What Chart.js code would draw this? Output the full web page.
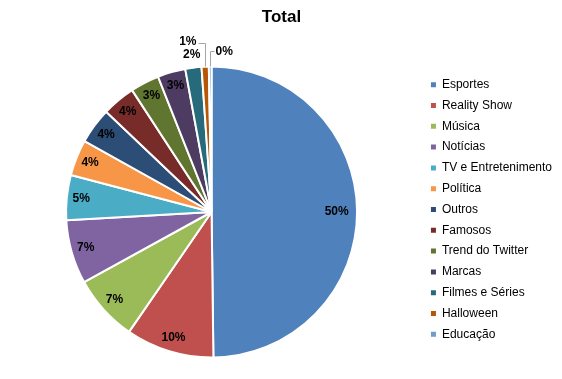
<!DOCTYPE html>
<html><head><meta charset="utf-8">
<script src="https://cdn.jsdelivr.net/npm/chart.js@4.4.0/dist/chart.umd.min.js"></script>
<style>html,body{margin:0;padding:0;background:#fff;overflow:hidden}</style>
</head><body>
<canvas id="c" width="562" height="379"></canvas>
<script>
const chartTitle = 'Total';
const categories = ['Esportes','Reality Show','Música','Notícias','TV e Entretenimento','Política','Outros','Famosos','Trend do Twitter','Marcas','Filmes e Séries','Halloween','Educação'];
const values = [49.8, 9.8, 7.4, 7.1, 5.0, 4.0, 4.0, 3.7, 3.2, 3.1, 1.8, 0.8, 0.3];
const colors = ['#4F81BD','#C0504D','#9BBB59','#8064A2','#4BACC6','#F79646','#2C4D75','#772C2A','#5F7530','#4D3B62','#276A7C','#B65708','#729ACA'];

const FONT = '"Liberation Sans", Arial, sans-serif';

const labelPlugin = {
  id: 'pieLabels',
  afterLayout(chart) {
    // nudge the legend block up slightly, as in the reference
    if (chart.legend) { chart.legend.top -= 2.5; chart.legend.bottom -= 2.5; }
  },
  afterDatasetsDraw(chart) {
    const ctx = chart.ctx;
    const meta = chart.getDatasetMeta(0);
    const data = chart.data.datasets[0].data;
    const total = data.reduce((a, b) => a + b, 0);
    ctx.save();
    ctx.font = 'bold 12px ' + FONT;
    ctx.fillStyle = '#000';
    ctx.textBaseline = 'middle';
    let tiny = 0;
    meta.data.forEach((arc, i) => {
      const p = arc.getProps(['x', 'y', 'startAngle', 'endAngle', 'outerRadius'], true);
      const share = data[i] / total * 100;
      const text = Math.round(share) + '%';
      const mid = (p.startAngle + p.endAngle) / 2;
      if (share >= 2.5) {
        const r = p.outerRadius * (share > 40 ? 0.86 : 0.9);
        ctx.textAlign = 'center';
        ctx.fillText(text, p.x + Math.cos(mid) * r, p.y + Math.sin(mid) * r);
      } else if (share >= 1.5) {
        const r = p.outerRadius + 13;
        ctx.textAlign = 'center';
        ctx.fillText(text, p.x + Math.cos(mid) * r, p.y + Math.sin(mid) * r);
      } else {
        const left = tiny % 2 === 0;
        const ex = Math.round(p.x + Math.cos(mid) * p.outerRadius) + 0.5;
        const ey = p.y + Math.sin(mid) * p.outerRadius;
        const ly = Math.round(p.y - p.outerRadius - (left ? 24 : 16)) + 0.5;
        ctx.strokeStyle = '#A6A6A6';
        ctx.lineWidth = 1;
        ctx.beginPath();
        ctx.moveTo(ex, ey);
        ctx.lineTo(ex, ly);
        ctx.lineTo(ex + (left ? -7 : 4), ly);
        ctx.stroke();
        ctx.textAlign = left ? 'right' : 'left';
        ctx.fillText(text, ex + (left ? -9 : 5), ly - (left ? 2 : 0));
        tiny++;
      }
    });
    ctx.restore();
  }
};

new Chart(document.getElementById('c'), {
  type: 'pie',
  data: {
    labels: categories,
    datasets: [{
      data: values,
      backgroundColor: colors,
      borderColor: '#FFFFFF',
      borderWidth: 2,
      hoverOffset: 0
    }]
  },
  options: {
    responsive: false,
    animation: false,
    devicePixelRatio: 1,
    layout: { padding: { left: 1, right: 0, top: 0, bottom: 20.5 } },
    plugins: {
      tooltip: { enabled: false },
      title: {
        display: true,
        text: chartTitle,
        color: '#000',
        font: { family: FONT, size: 17, weight: 'bold' },
        padding: { top: 6.8, bottom: 38.3 }
      },
      legend: {
        position: 'right',
        fullSize: false,
        align: 'center',
        labels: {
          boxWidth: 5,
          boxHeight: 5,
          padding: 8.8,
          color: '#000',
          font: { family: FONT, size: 12 },
          generateLabels(chart) {
            const base = Chart.overrides.pie.plugins.legend.labels.generateLabels(chart);
            return base.map(l => Object.assign(l, { lineWidth: 0, strokeStyle: 'rgba(0,0,0,0)' }));
          }
        }
      }
    }
  },
  plugins: [labelPlugin]
});
</script>
</body></html>
